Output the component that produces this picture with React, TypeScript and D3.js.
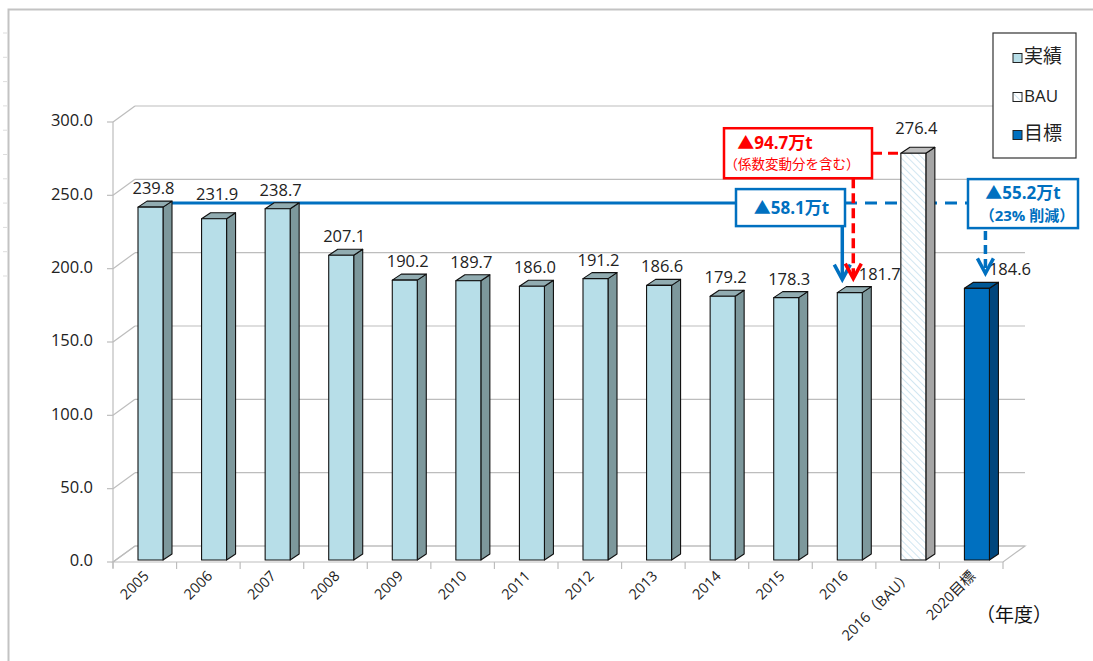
import * as d3 from "d3";

// CO2 emissions (万t) by fiscal year, plus 2016 BAU and the 2020 target
const categories = [
  "2005", "2006", "2007", "2008", "2009", "2010", "2011", "2012",
  "2013", "2014", "2015", "2016", "2016（BAU）", "2020目標",
];
const values = [
  239.8, 231.9, 238.7, 207.1, 190.2, 189.7, 186.0, 191.2,
  186.6, 179.2, 178.3, 181.7, 276.4, 184.6,
];
const kinds = [
  "actual", "actual", "actual", "actual", "actual", "actual", "actual",
  "actual", "actual", "actual", "actual", "actual", "bau", "target",
];
const yTicks = [0, 50, 100, 150, 200, 250, 300];
const legendLabels = ["実績", "BAU", "目標"];
const legendKinds = ["actual", "bau", "target"];

const W = 1093;
const H = 661;
const DX = 22; // wall depth
const DY = -16;
const BX = 9; // bar depth
const BY = -6;
const BLUE = "#0070C0";
const RED = "#FF0000";
const FONT = "'Open Sans', 'Noto Sans CJK JP', sans-serif";
const JP_FONT = "'Noto Sans CJK JP', 'Noto Sans', sans-serif";

const colors: Record<string, { front: string; side: string; top: string }> = {
  actual: { front: "#B7DEE8", side: "#7D989C", top: "#91ACB1" },
  bau: { front: "url(#hatch)", side: "#A5A5A5", top: "#BFBFBF" },
  target: { front: "#0070C0", side: "#00467D", top: "#005896" },
};

export default function App() {
  const x = d3.scaleBand(categories, [113, 1003]);
  const y = d3.scaleLinear([0, 300], [562, 122]);
  const yBar = d3.scaleLinear([0, 300], [560, 118.5]);
  const bw = x.bandwidth();
  const fmt = d3.format(".1f");

  const barX = (i: number) => (x(categories[i]) as number) + 25;
  const lineY = yBar(values[0]) - 4;
  const i16 = 11;
  const iBau = 12;
  const iTgt = 13;
  const bauLeft = barX(iBau);
  const bauTop = yBar(values[iBau]);

  const chevron = (cx: number, tip: number) =>
    `M${cx - 8},${tip - 15}L${cx},${tip}L${cx + 8},${tip - 15}`;

  // annotation anchors
  const blueArrowX = barX(i16) + 5;
  const redArrowX = barX(i16) + 16;
  const tgtArrowX = barX(iTgt) + 21;
  const box58 = { x0: 736, x1: 845, y0: lineY - 14, y1: lineY + 23 };
  const redBox = { x0: 724, x1: 872, y0: bauTop - 25, y1: bauTop + 25 };
  const box55 = { x0: 968, x1: 1078, y0: lineY - 24, y1: lineY + 25 };

  // hand-placed label nudges, as in the original chart
  const labelShift = (i: number) =>
    i === i16 ? [30, 0] : i === iTgt ? [33, 0] : i === 1 ? [3, -6] : i === iBau ? [3, -6] : [3, 0];

  return (
    <svg
      width={W}
      height={H}
      style={{ position: "absolute", left: 0, top: 0, background: "#fff" }}
    >
      <defs>
        <pattern
          id="hatch"
          width="5"
          height="5"
          patternUnits="userSpaceOnUse"
          patternTransform="rotate(-45)"
        >
          <rect width="5" height="5" fill="#fff" />
          <line x1="0" y1="0" x2="0" y2="5" stroke="#C5E0EE" strokeWidth="1.6" />
        </pattern>
      </defs>

      {/* frame */}
      <path d={`M8.5,${H}V9.5H${W}`} fill="none" stroke="#C3C3C3" strokeWidth="2" />
      {d3.range(33, 290, 24.3).map((v, i) => (
        <line key={i} x1={3} x2={7} y1={v} y2={v} stroke="#DDD" />
      ))}

      {/* floor */}
      <path
        d={`M113,${y(0)}H1003L${1003 + DX},${y(0) + DY}H${113 + DX}Z`}
        fill="none"
        stroke="#BDBDBD"
        strokeWidth="1.2"
      />

      {/* gridlines on back wall and side wall */}
      <g stroke="#BDBDBD" strokeWidth="1.2" fill="none">
        {yTicks.map((t) => (
          <g key={t}>
            <line x1={113 + DX} x2={1003 + DX} y1={y(t) + DY} y2={y(t) + DY} />
            <line x1={113} y1={y(t)} x2={113 + DX} y2={y(t) + DY} />
            <line x1={107} x2={113} y1={y(t)} y2={y(t)} />
          </g>
        ))}
        <line x1={113} x2={113} y1={y(300)} y2={y(0) + 6} />
        {categories.concat([""]).map((_, i) => {
          const xx = 113 + i * bw;
          return <line key={i} x1={xx} x2={xx} y1={y(0)} y2={y(0) + 7} />;
        })}
      </g>

      {/* y labels */}
      <g fontFamily={FONT} fontSize="16.5" fill="#222" textAnchor="end">
        {yTicks.map((t) => (
          <text key={t} x={93} y={y(t)} dominantBaseline="middle">
            {fmt(t)}
          </text>
        ))}
      </g>

      {/* blue baseline lines (behind bars) */}
      <line x1={barX(0) + 32} x2={box58.x0} y1={lineY} y2={lineY} stroke={BLUE} strokeWidth="3" />
      <line
        x1={box58.x1}
        x2={box55.x0}
        y1={lineY}
        y2={lineY}
        stroke={BLUE}
        strokeWidth="3"
        strokeDasharray="12 8"
      />
      <line
        x1={redBox.x1}
        x2={bauLeft}
        y1={bauTop}
        y2={bauTop}
        stroke={RED}
        strokeWidth="3"
        strokeDasharray="10 6"
      />

      {/* bars */}
      <g stroke="#111" strokeWidth="1.1" strokeLinejoin="round">
        {values.map((v, i) => {
          const x0 = barX(i);
          const x1 = x0 + 25;
          const top = yBar(v);
          const bot = yBar(0);
          const c = colors[kinds[i]];
          return (
            <g key={i}>
              <path
                d={`M${x1},${top}L${x1 + BX},${top + BY}V${bot + BY}L${x1},${bot}Z`}
                fill={c.side}
              />
              <path
                d={`M${x0},${top}L${x0 + BX},${top + BY}H${x1 + BX}L${x1},${top}Z`}
                fill={c.top}
              />
              <rect x={x0} y={top} width={25} height={bot - top} fill={c.front} />
            </g>
          );
        })}
      </g>

      {/* data labels */}
      <g fontFamily={FONT} fontSize="16.5" fill="#222" textAnchor="middle">
        {values.map((v, i) => {
          const [sx, sy] = labelShift(i);
          return (
            <text key={i} x={barX(i) + 12.5 + sx} y={yBar(v) - 13 + sy}>
              {fmt(v)}
            </text>
          );
        })}
      </g>

      {/* x labels */}
      <g fontFamily={FONT} fontSize="14.5" fill="#222" textAnchor="end">
        {categories.map((c) => {
          const cx = (x(c) as number) + bw / 2 + 5;
          const cy = y(0) + 15;
          return (
            <text key={c} transform={`translate(${cx},${cy}) rotate(-45)`}>
              {c}
            </text>
          );
        })}
      </g>
      <text x={976} y={622} fontFamily={JP_FONT} fontSize="19" fill="#111">
        （年度）
      </text>

      {/* arrows */}
      <line x1={blueArrowX} x2={blueArrowX} y1={box58.y1} y2={yBar(values[i16]) - 14} stroke={BLUE} strokeWidth="3.5" />
      <path d={chevron(blueArrowX, yBar(values[i16]) - 13)} fill="none" stroke={BLUE} strokeWidth="3.5" />
      <line
        x1={redArrowX}
        x2={redArrowX}
        y1={redBox.y1}
        y2={yBar(values[i16]) - 16}
        stroke={RED}
        strokeWidth="3.5"
        strokeDasharray="10 5"
      />
      <path d={chevron(redArrowX, yBar(values[i16]) - 14)} fill="none" stroke={RED} strokeWidth="3.5" />
      <line
        x1={tgtArrowX}
        x2={tgtArrowX}
        y1={box55.y1 + 3}
        y2={yBar(values[iTgt]) - 17}
        stroke={BLUE}
        strokeWidth="3.5"
        strokeDasharray="9 5"
      />
      <path d={chevron(tgtArrowX, yBar(values[iTgt]) - 15)} fill="none" stroke={BLUE} strokeWidth="3.5" />

      {/* annotation boxes */}
      <g fontFamily={FONT} textAnchor="middle" fontWeight="bold">
        <rect
          x={redBox.x0}
          y={redBox.y0}
          width={redBox.x1 - redBox.x0}
          height={redBox.y1 - redBox.y0}
          fill="#fff"
          stroke={RED}
          strokeWidth="2.5"
        />
        <text x={(redBox.x0 + redBox.x1) / 2 - 23} y={redBox.y0 + 21} fill={RED} fontSize="17">
          ▲94.7万t
        </text>
        <text
          x={(redBox.x0 + redBox.x1) / 2 - 6}
          y={redBox.y0 + 41}
          fill={RED}
          fontSize="13.5"
          fontWeight="normal"
          fontFamily={JP_FONT}
        >
          （係数変動分を含む）
        </text>

        <rect
          x={box58.x0}
          y={box58.y0}
          width={box58.x1 - box58.x0}
          height={box58.y1 - box58.y0}
          fill="#fff"
          stroke={BLUE}
          strokeWidth="2.5"
        />
        <text x={(box58.x0 + box58.x1) / 2 + 1} y={box58.y0 + 25} fill={BLUE} fontSize="17">
          ▲58.1万t
        </text>

        <rect
          x={box55.x0}
          y={box55.y0}
          width={box55.x1 - box55.x0}
          height={box55.y1 - box55.y0}
          fill="#fff"
          stroke={BLUE}
          strokeWidth="2.5"
        />
        <text x={(box55.x0 + box55.x1) / 2} y={box55.y0 + 20} fill={BLUE} fontSize="17">
          ▲55.2万t
        </text>
        <text x={(box55.x0 + box55.x1) / 2 + 4} y={box55.y0 + 42} fill={BLUE} fontSize="15">
          （23% 削減）
        </text>
      </g>

      {/* legend */}
      <rect x={993} y={33} width={83} height={125} fill="#fff" stroke="#333" strokeWidth="1.2" />
      {legendLabels.map((l, i) => {
        const cy = [58, 97, 135][i];
        const c = colors[legendKinds[i]];
        return (
          <g key={l}>
            <rect x={1013} y={cy - 4.5} width={9} height={9} fill={c.front} stroke="#222" strokeWidth="1" />
            <text
              x={1024}
              y={cy}
              dominantBaseline="middle"
              fontFamily={i === 1 ? FONT : JP_FONT}
              fontSize={i === 1 ? 17 : 19}
              fill="#222"
            >
              {l}
            </text>
          </g>
        );
      })}
    </svg>
  );
}
